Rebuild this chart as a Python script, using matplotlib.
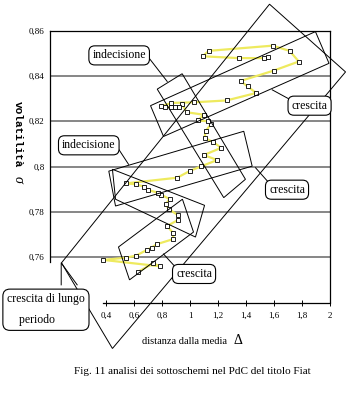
import matplotlib
matplotlib.use("Agg")
import matplotlib.pyplot as plt
from matplotlib.patches import Polygon

plt.rcParams['font.family'] = ['Liberation Serif', 'DejaVu Serif']

# serie: distanza dalla media (delta) e volatilità (sigma), in ordine di tempo
delta = [0.630, 0.737, 0.784, 0.382, 0.544, 0.616, 0.694, 0.725, 0.761, 0.880,
         0.880, 0.837, 0.916, 0.916, 0.849, 0.825, 0.856, 0.794, 0.770, 0.699,
         0.670, 0.611, 0.546, 0.909, 0.999, 1.080, 1.194, 1.099, 1.223, 1.166,
         1.104, 1.111, 1.151, 1.127, 1.056, 1.099, 0.975, 0.946, 0.920, 0.894,
         0.861, 0.820, 0.796, 0.866, 1.032, 1.261, 1.473, 1.411, 1.361, 1.599,
         1.777, 1.711, 1.591, 1.134, 1.091, 1.349, 1.527, 1.559]
sigma = [0.7536, 0.7573, 0.7560, 0.7588, 0.7598, 0.7607, 0.7633, 0.7642, 0.7657, 0.7680,
         0.7706, 0.7738, 0.7765, 0.7785, 0.7812, 0.7834, 0.7856, 0.7876, 0.7885, 0.7897,
         0.7912, 0.7922, 0.7926, 0.7951, 0.7981, 0.8001, 0.8029, 0.8051, 0.8083, 0.8108,
         0.8127, 0.8155, 0.8189, 0.8200, 0.8204, 0.8229, 0.8240, 0.8275, 0.8262, 0.8263,
         0.8263, 0.8262, 0.8266, 0.8281, 0.8284, 0.8292, 0.8325, 0.8354, 0.8378, 0.8424,
         0.8464, 0.8511, 0.8534, 0.8511, 0.8487, 0.8479, 0.8479, 0.8484]

x_ticks = [0.4, 0.6, 0.8, 1.0, 1.2, 1.4, 1.6, 1.8, 2.0]
x_tick_labels = ["0,4", "0,6", "0,8", "1", "1,2", "1,4", "1,6", "1,8", "2"]
y_ticks = [0.76, 0.78, 0.80, 0.82, 0.84, 0.86]
y_tick_labels = ["0,76", "0,78", "0,8", "0,82", "0,84", "0,86"]

# sottoschemi disegnati a mano (vertici in unità degli assi)
riquadri = {
    "lungo periodo": [(0.082, 0.7575), (1.568, 0.8717), (2.111, 0.8418), (0.446, 0.7197)],
    "crescita alto": [(0.718, 0.8269), (1.896, 0.8596), (1.993, 0.8456), (0.811, 0.8133)],
    "indecisione alto": [(0.766, 0.8342), (0.944, 0.8410), (1.396, 0.7944), (1.241, 0.7863)],
    "crescita medio": [(0.420, 0.7980), (1.384, 0.8156), (1.444, 0.8002), (0.468, 0.7826)],
    "indecisione medio": [(0.446, 0.7988), (1.104, 0.7829), (1.039, 0.7689), (0.468, 0.7856)],
    "crescita basso": [(0.489, 0.7645), (0.946, 0.7856), (1.025, 0.7711), (0.568, 0.7500)],
}

# etichette: testo, posizione, linea di richiamo
etichette = [
    ("indecisione", (0.494, 0.8491), [(0.699, 0.8486), (0.837, 0.8376)]),
    ("indecisione", (0.277, 0.8094), [(0.484, 0.8083), (0.561, 0.8010)]),
    ("crescita", (1.854, 0.8269), [(1.587, 0.8339), (1.718, 0.8295)]),
    ("crescita", (1.693, 0.7898), [(1.468, 0.7995), (1.563, 0.7929)]),
    ("crescita", (1.029, 0.7526), [(0.811, 0.7614), (0.889, 0.7561)]),
]

fig = plt.figure(figsize=(3.5, 4), dpi=100)
ax = fig.add_axes([50 / 350, 97.5 / 400, 280 / 350, 271.8 / 400])
ax.set_xlim(0, 2)
ax.set_ylim(0.74, 0.86)

for y in y_ticks[:-1]:
    ax.axhline(y, color="#666666", lw=1.1, zorder=1)

for s in ["top", "right", "left", "bottom"]:
    ax.spines[s].set_color("black")
    ax.spines[s].set_linewidth(0.9)
ax.spines["left"].set_bounds(0.758, 0.86)
ax.spines["bottom"].set_bounds(0.38, 2.0)

ax.set_xticks(x_ticks)
ax.set_xticklabels(x_tick_labels)
ax.set_yticks(y_ticks)
ax.set_yticklabels(y_tick_labels)
ax.tick_params(axis="x", direction="inout", length=4, width=0.7, pad=5, labelsize=6.5)
ax.tick_params(axis="y", length=0, pad=4, labelsize=6.5)

ax.plot(delta, sigma, color="#eeea5e", lw=1.6, zorder=2)
ax.plot(delta, sigma, ls="none", marker="s", markersize=2.6, mfc="white",
        mec="black", mew=0.6, zorder=3)

for nome, vertici in riquadri.items():
    ax.add_patch(Polygon(vertici, closed=True, fill=False, ec="black", lw=0.7,
                         zorder=4, clip_on=False))

box_style = dict(boxstyle="round,pad=0.3,rounding_size=0.5", fc="white", ec="black", lw=0.8)
for testo, (x, y), richiamo in etichette:
    ax.plot([p[0] for p in richiamo], [p[1] for p in richiamo], color="black", lw=0.7,
            zorder=5, clip_on=False)
    ax.text(x, y, testo, ha="center", va="center", fontsize=8.5, bbox=box_style,
            zorder=6, clip_on=False)

# richiamo "crescita di lungo periodo"
ax.plot([0.08, 0.08, 0.194], [0.7478, 0.7575, 0.7478], color="black", lw=0.7,
        zorder=5, clip_on=False)
ax.text(-0.029, 0.7368, "crescita di lungo\n    periodo", ha="center", va="center",
        fontsize=8.5, linespacing=2.0, multialignment="left",
        bbox=dict(boxstyle="round,pad=0.35,rounding_size=0.6", fc="white", ec="black", lw=0.8),
        zorder=7, clip_on=False)

# titoli degli assi
fig.text(18 / 350, 1 - 134 / 400, "volatilità", rotation=270, ha="center", va="center",
         fontsize=8, family="Liberation Mono", fontweight="bold")
fig.text(18 / 350, 1 - 179 / 400, "σ", rotation=270, ha="center", va="center",
         fontsize=10, style="italic")
fig.text(185 / 350, 1 - 341 / 400, "distanza dalla media", ha="center", va="center",
         fontsize=7.5)
fig.text(238 / 350, 1 - 340 / 400, "Δ", ha="center", va="center", fontsize=10)

fig.text(192 / 350, 1 - 371 / 400, "Fig. 11 analisi dei sottoschemi nel PdC del titolo Fiat",
         ha="center", va="center", fontsize=8)

fig.savefig("out.png", dpi=100)
